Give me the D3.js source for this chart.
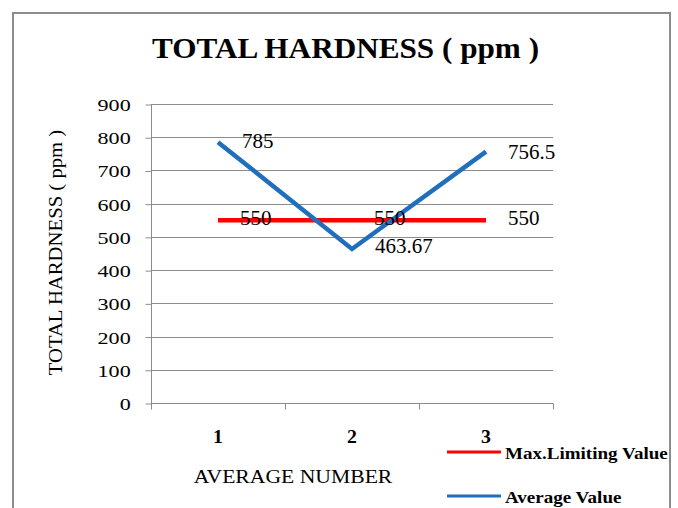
<!DOCTYPE html>
<html>
<head>
<meta charset="utf-8">
<script src="https://cdn.jsdelivr.net/npm/d3@7"></script>
<style>
  body { margin: 0; background: #fff; }
</style>
</head>
<body>
<script>
// chart data
const categories = ["1", "2", "3"];
const maxLimit = [550, 550, 550];
const averageValue = [785, 463.67, 756.5];
const yTicks = [0, 100, 200, 300, 400, 500, 600, 700, 800, 900];
const seriesNames = ["Max.Limiting Value", "Average Value"];
const seriesColors = ["#ff0000", "#1f6fbd"];

let width = 678;
let height = 508;

// plot area
let margin = { top: 104, left: 151, right: 125, bottom: 105 };

let svg = d3.select("body").append("svg")
    .attr("width", width)
    .attr("height", height)
    .attr("font-family", "Liberation Serif");

// text helper: the picture's text is a bit wider than the font, so stretch it
function addText(parent, x, y, str, size, sx, opts) {
    opts = opts || {};
    return parent.append("text")
        .attr("transform", `translate(${x}, ${y}) scale(${sx}, 1)`)
        .attr("text-anchor", opts.anchor || "start")
        .attr("font-size", size)
        .attr("font-weight", opts.bold ? "bold" : "normal")
        .attr("fill", "#000")
        .text(str);
}

// outer frame
svg.append("rect")
    .attr("x", 13).attr("y", 13)
    .attr("width", 657).attr("height", 520)
    .attr("fill", "none")
    .attr("stroke", "#8c8c8c")
    .attr("stroke-width", 2);

const xScale = d3.scaleBand()
    .domain(categories)
    .range([margin.left, width - margin.right]);

const yScale = d3.scaleLinear()
    .domain([0, 900])
    .range([height - margin.bottom, margin.top]);

// gridlines
svg.append("g")
    .selectAll("line")
    .data(yTicks.filter(d => d > 0))
    .enter().append("line")
    .attr("x1", margin.left)
    .attr("x2", width - margin.right)
    .attr("y1", d => Math.round(yScale(d)) + 0.5)
    .attr("y2", d => Math.round(yScale(d)) + 0.5)
    .attr("stroke", "#8c8c8c")
    .attr("stroke-width", 1);

// y axis
const yAxis = svg.append("g")
    .attr("transform", `translate(${margin.left + 0.5}, 0.5)`)
    .call(d3.axisLeft(yScale).tickValues(yTicks).tickSize(6).tickPadding(10))
    .attr("font-family", "Liberation Serif")
    .attr("font-size", 17);
yAxis.selectAll("path, line").attr("stroke", "#8c8c8c");
yAxis.select(".domain").attr("d", `M0,${yScale(900)}V${yScale(0)}`);
yAxis.selectAll("text")
    .attr("fill", "#000")
    .attr("dy", "0.35em")
    .attr("transform", "scale(1.3, 1)");

// x axis (ticks between categories)
const xAxisG = svg.append("g")
    .attr("transform", `translate(0, ${yScale(0) + 0.5})`);
xAxisG.append("line")
    .attr("x1", margin.left).attr("x2", width - margin.right)
    .attr("stroke", "#8c8c8c");
const bounds = categories.map(c => xScale(c)).concat([xScale(categories[2]) + xScale.bandwidth()]);
xAxisG.selectAll(".tk")
    .data(bounds)
    .enter().append("line")
    .attr("x1", d => Math.round(d) + 0.5)
    .attr("x2", d => Math.round(d) + 0.5)
    .attr("y1", 0).attr("y2", 6)
    .attr("stroke", "#8c8c8c");
categories.forEach(c => {
    addText(xAxisG, xScale(c) + xScale.bandwidth() / 2, 39, c, 18, 1.1, { anchor: "middle", bold: true });
});

// titles
addText(svg, 345.5, 58, "TOTAL HARDNESS ( ppm )", 30, 1.04, { anchor: "middle", bold: true });

svg.append("text")
    .attr("transform", "translate(62, 252.5) rotate(-90) scale(1.09, 1)")
    .attr("text-anchor", "middle")
    .attr("font-size", 19)
    .text("TOTAL HARDNESS ( ppm )");

addText(svg, 293, 483, "AVERAGE NUMBER", 19, 1.14, { anchor: "middle" });

// lines
const line = d3.line()
    .x((d, i) => xScale(categories[i]) + xScale.bandwidth() / 2)
    .y(d => yScale(d));

[maxLimit, averageValue].forEach((s, k) => {
    svg.append("path")
        .datum(s)
        .attr("d", line)
        .attr("fill", "none")
        .attr("stroke", seriesColors[k])
        .attr("stroke-width", 4.5);
});

// data labels
const cx = i => xScale(categories[i]) + xScale.bandwidth() / 2;
maxLimit.forEach((d, i) => {
    addText(svg, cx(i) + 22, yScale(d) + 5, d, 20, 1.05);
});

const avgOffsets = [[24, 6], [23, 4], [22, 7]];
averageValue.forEach((d, i) => {
    addText(svg, cx(i) + avgOffsets[i][0], yScale(d) + avgOffsets[i][1], d, 20, 1.05);
});

// legend
const legendY = [452, 496];
seriesNames.forEach((name, k) => {
    svg.append("line")
        .attr("x1", 447).attr("x2", 501)
        .attr("y1", legendY[k]).attr("y2", legendY[k])
        .attr("stroke", seriesColors[k])
        .attr("stroke-width", 3);
    addText(svg, 505, legendY[k] + 7, name, 17, 1.12, { bold: true });
});
</script>
</body>
</html>
